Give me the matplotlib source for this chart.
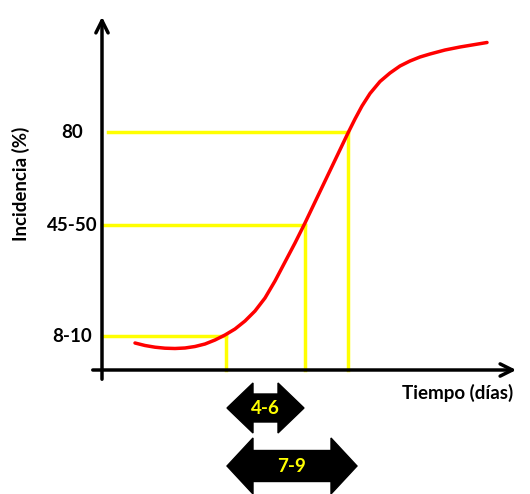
import matplotlib.pyplot as plt
from matplotlib.patches import Polygon

# schematic chart, coordinates (pixels, y down)
curve_x = [135, 145, 155, 165, 175, 185, 195, 205, 215, 225, 235, 245, 255, 265,
           275, 285, 295, 305, 315, 326, 337, 348, 355, 362, 370, 380, 390, 400,
           410, 420, 430, 445, 460, 475, 487]
curve_y = [343, 345.5, 347.2, 348.2, 348.5, 348, 346.5, 344, 340, 335, 329, 321, 311, 298,
           281, 262, 243, 223, 202, 179, 156, 133, 119, 106, 93.5, 81.5, 73, 66,
           61, 57, 54, 50, 47, 44.5, 42.5]

level_labels = ["8-10", "45-50", "80"]
level_y = [336, 225, 132]
level_x = [226, 305, 348]      # where the curve reaches each level
level_x0 = [102, 102, 108]

ranges = ["4-6", "7-9"]
range_start = [227, 227]
range_end = [304, 357]
range_y = [408, 466]
range_h = [50, 56]
range_body = [28, 31]

axis_x0, axis_y0 = 102, 370

plt.rcParams['font.family'] = ['Lato', 'DejaVu Sans']
fig = plt.figure(figsize=(5.3, 4.94), dpi=100)
ax = fig.add_axes([0, 0, 1, 1])
ax.set_xlim(0, 530)
ax.set_ylim(494, 0)
ax.axis('off')

# axes with arrow heads
ax.annotate("", xy=(axis_x0, 14), xytext=(axis_x0, 382),
            arrowprops=dict(arrowstyle="->", lw=2.5, color="black", mutation_scale=22))
ax.annotate("", xy=(519, axis_y0), xytext=(90, axis_y0),
            arrowprops=dict(arrowstyle="->", lw=2.5, color="black", mutation_scale=22))

# yellow guide lines
for lx, ly, x0 in zip(level_x, level_y, level_x0):
    ax.plot([x0, lx], [ly, ly], color="#ffff00", lw=2.5, zorder=2)
    ax.plot([lx, lx], [ly, axis_y0], color="#ffff00", lw=2.5, zorder=2)

ax.plot(curve_x, curve_y, color="red", lw=2.5, zorder=3,
        solid_joinstyle="round", solid_capstyle="round")

for lab, ly in zip(level_labels, level_y):
    ax.text(72, ly, lab, ha="center", va="center", fontsize=13.5, fontweight="bold")

ax.text(21, 184, "Incidencia (%)", rotation=90, ha="center", va="center",
        fontsize=13.5, fontweight="bold")
ax.text(458, 393, "Tiempo (días)", ha="center", va="center",
        fontsize=13.5, fontweight="bold")

# double-headed range arrows
for lab, x0, x1, yc, h, b in zip(ranges, range_start, range_end, range_y, range_h, range_body):
    head = 26
    pts = [(x0, yc), (x0 + head, yc - h / 2), (x0 + head, yc - b / 2),
           (x1 - head, yc - b / 2), (x1 - head, yc - h / 2), (x1, yc),
           (x1 - head, yc + h / 2), (x1 - head, yc + b / 2),
           (x0 + head, yc + b / 2), (x0 + head, yc + h / 2)]
    ax.add_patch(Polygon(pts, closed=True, color="black"))
    ax.text((x0 + x1) / 2, yc, lab, ha="center", va="center",
            fontsize=13.5, fontweight="bold", color="#ffff00")

fig.savefig("out.png", dpi=100)
